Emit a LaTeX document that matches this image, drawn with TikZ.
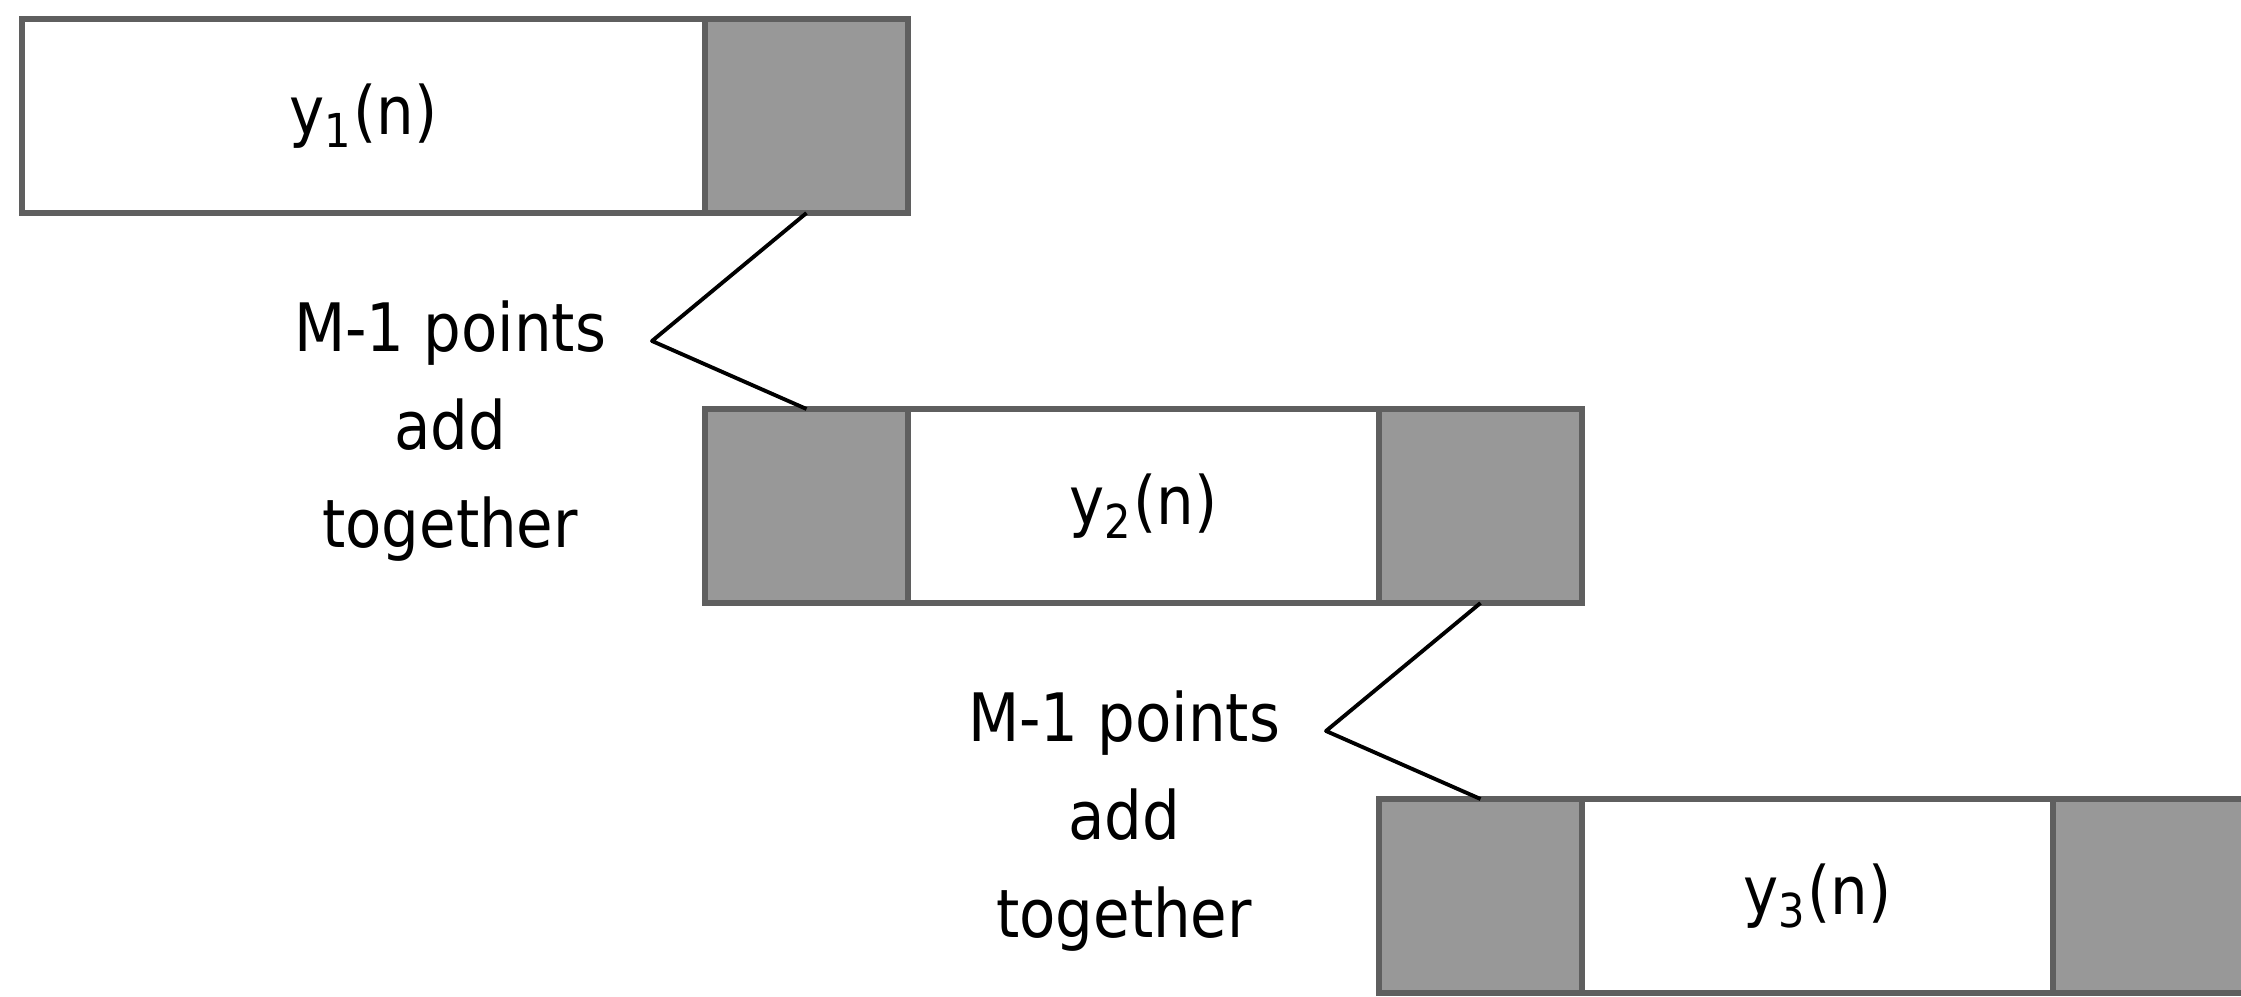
\documentclass[tikz,border=0pt]{standalone}
\usepackage{fontspec}
\setmainfont{DejaVu Sans}[FakeStretch=0.89]
\usepackage{tikz}
\usetikzlibrary{positioning}

\definecolor{padgrey}{RGB}{152,152,152}
\definecolor{edgegrey}{RGB}{95,95,95}

\tikzset{
  part/.style={draw=edgegrey, line width=1.8pt, minimum height=1.94cm,
    inner sep=0pt, outer sep=0pt},
  greypart/.style={part, fill=padgrey, minimum width=2.03cm},
  whitepart/.style={part, fill=white, minimum width=4.71cm},
  link/.style={line width=1.1pt, line join=round},
  note/.style={align=center, font=\fontsize{19}{28}\selectfont}
}

\begin{document}
\begin{tikzpicture}
    \def \dx {6.74} % shift from one block to the next
    \def \dy {3.90}
    \useasboundingbox (0,0) rectangle (22.41,-9.97);
    % first block has no grey part in front
    \node[whitepart, minimum width=6.83cm, anchor=north west, font=\fontsize{19}{23}\selectfont]
      (w1) at (0.22,-0.19) {y\textsubscript{1}(n)};
    \node[greypart, right=0pt of w1] (r1) {};
    \foreach \s in {2,3}
    {
      \node[greypart, anchor=north west] (l\s) at ({7.05+\dx*(\s-2)},{-0.19-\dy*(\s-1)}) {};
      \node[whitepart, right=0pt of l\s, font=\fontsize{19}{23}\selectfont] (w\s) {y\textsubscript{\s}(n)};
      \node[greypart, right=0pt of w\s] (r\s) {};
    }
    \foreach \s/\t in {1/2,2/3}
    {
      \coordinate (k\s) at ({6.52+\dx*(\s-1)},{-3.41-\dy*(\s-1)});
      \draw[link] (r\s.south) -- (k\s) -- (l\t.north);
      \node[note] (n\s) at ({4.50+\dx*(\s-1)},{-4.31-\dy*(\s-1)}) {M-1 points\\add\\together};
    }
\end{tikzpicture}
\end{document}
